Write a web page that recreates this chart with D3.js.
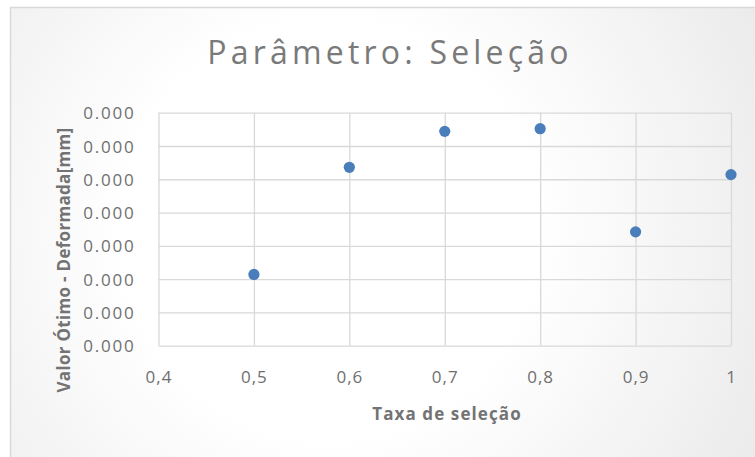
<!DOCTYPE html>
<html>
<head>
<meta charset="utf-8">
<script src="https://cdn.jsdelivr.net/npm/d3@7"></script>
<style>
  html, body { margin: 0; padding: 0; background: #ffffff; }
  svg { display: block; }
  text { font-family: "Open Sans", "Noto Sans", sans-serif; }
</style>
</head>
<body>
<script>
// Selection rate (x) against optimal deformation value in mm (y)
const selectionRate = [0.5, 0.6, 0.7, 0.8, 0.9, 1.0];
const optimalDeformation = [0.000107, 0.000268, 0.000322, 0.000326, 0.000171, 0.000257];

const xTicks = [0.4, 0.5, 0.6, 0.7, 0.8, 0.9, 1.0];
const yTicks = [0, 0.00005, 0.0001, 0.00015, 0.0002, 0.00025, 0.0003, 0.00035];

const chartTitle = "Parâmetro: Seleção";
const xTitle = "Taxa de seleção";
const yTitle = "Valor Ótimo - Deformada[mm]";

const W = 755, H = 457;
const plot = { left: 158.5, right: 731, top: 112.7, bottom: 345.7 };

const svg = d3.select("body").append("svg")
  .attr("width", W).attr("height", H);

// Soft radial fill of the chart area
const defs = svg.append("defs");
const grad = defs.append("radialGradient")
  .attr("id", "chartFill")
  .attr("gradientUnits", "userSpaceOnUse")
  .attr("cx", 330).attr("cy", 230).attr("r", 520);
grad.append("stop").attr("offset", "0").attr("stop-color", "#ffffff");
grad.append("stop").attr("offset", "0.4").attr("stop-color", "#ffffff");
grad.append("stop").attr("offset", "1").attr("stop-color", "#e8e8e8");

svg.append("rect")
  .attr("x", 10.5).attr("y", 7.5)
  .attr("width", W + 20).attr("height", H + 20)
  .attr("fill", "url(#chartFill)")
  .attr("stroke", "#d9d9d9")
  .attr("stroke-width", 1.5);

const x = d3.scaleLinear().domain([0.4, 1.0]).range([plot.left, plot.right]);
const y = d3.scaleLinear().domain([0, 0.00035]).range([plot.bottom, plot.top]);

const ptBR = d3.formatLocale({ decimal: ",", thousands: ".", grouping: [3], currency: ["R$", ""] });
const fmtX = ptBR.format(".1~f");
const fmtY = d3.format(".3f");

const gridColor = "#d9d9d9";
const tickColor = "#6f6f6f";

// Y axis with horizontal gridlines
const yAxis = svg.append("g")
  .attr("transform", `translate(${plot.left},0)`)
  .call(d3.axisLeft(y).tickValues(yTicks).tickFormat(fmtY)
    .tickSize(-(plot.right - plot.left)).tickPadding(23));
yAxis.select(".domain").remove();
yAxis.selectAll(".tick line").attr("stroke", gridColor).attr("stroke-width", 1.3);
yAxis.selectAll(".tick text")
  .attr("fill", tickColor)
  .style("font-size", "17px")
  .style("letter-spacing", "1.8px")
  .attr("dy", "0.36em");

// X axis with vertical gridlines
const xAxis = svg.append("g")
  .attr("transform", `translate(0,${plot.bottom})`)
  .call(d3.axisBottom(x).tickValues(xTicks).tickFormat(fmtX)
    .tickSize(-(plot.bottom - plot.top)).tickPadding(25));
xAxis.select(".domain").remove();
xAxis.selectAll(".tick line").attr("stroke", gridColor).attr("stroke-width", 1.3);
xAxis.selectAll(".tick text")
  .attr("fill", tickColor)
  .style("font-size", "17px")
  .style("letter-spacing", "1px");

// Data points
svg.append("g").selectAll("circle")
  .data(selectionRate.map((s, i) => ({ s, v: optimalDeformation[i] })))
  .join("circle")
  .attr("cx", d => x(d.s))
  .attr("cy", d => y(d.v))
  .attr("r", 5.6)
  .attr("fill", "#4a7ebb");

// Titles
svg.append("text")
  .attr("x", 390).attr("y", 63.5)
  .attr("text-anchor", "middle")
  .attr("fill", "#7a7a7a")
  .style("font-size", "32px")
  .style("font-weight", 400)
  .style("letter-spacing", "4.2px")
  .text(chartTitle);

svg.append("text")
  .attr("x", 447).attr("y", 420)
  .attr("text-anchor", "middle")
  .attr("fill", "#737373")
  .style("font-size", "17px")
  .style("font-weight", 700)
  .style("letter-spacing", "1.1px")
  .text(xTitle);

svg.append("text")
  .attr("transform", "translate(69.5,260) rotate(-90)")
  .attr("text-anchor", "middle")
  .attr("fill", "#737373")
  .style("font-size", "17px")
  .style("font-weight", 700)
  .style("letter-spacing", "0.3px")
  .text(yTitle);
</script>
</body>
</html>
